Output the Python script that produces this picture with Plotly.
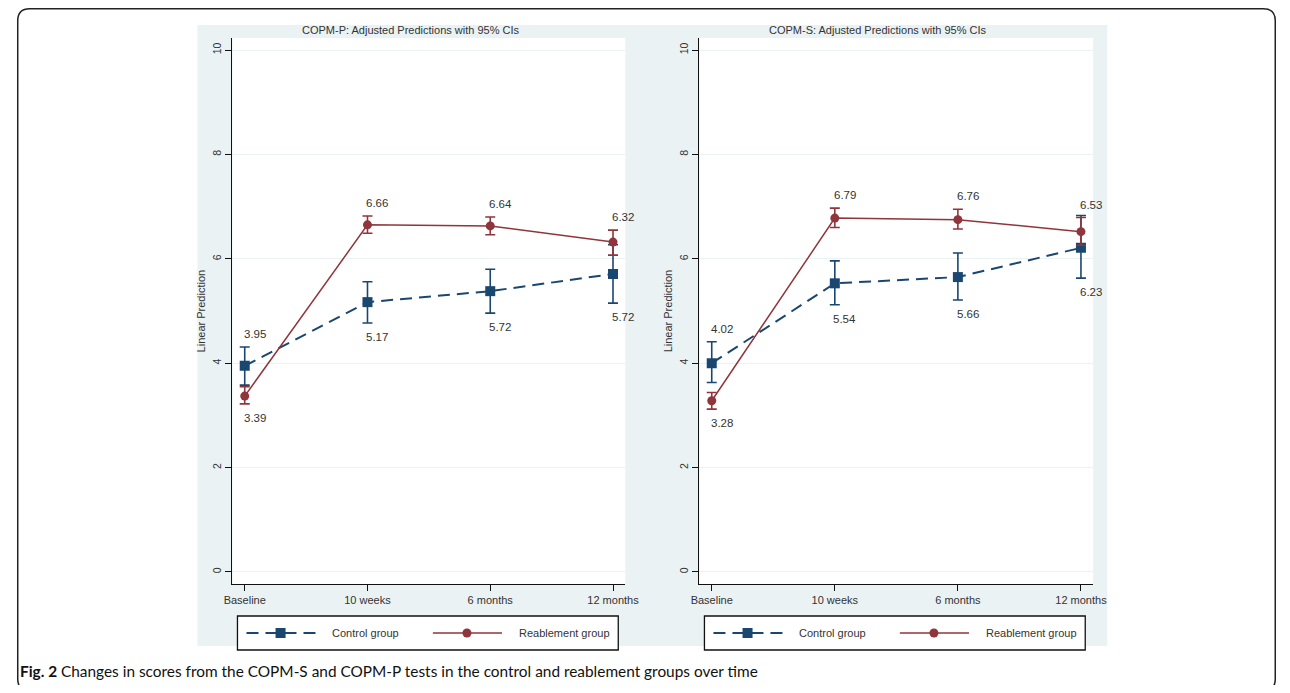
import plotly.graph_objects as go

# figure size (kept inside the 1290x693 window, whose page has an 8px body margin)
W, H = 1282, 677
# measured window placement of the figure: window_x = X0 + SX * fig_x ; window_y = Y0 + fig_y
X0, SX, Y0 = 18.0, 0.98, 8.0

# ---------------- data ----------------
categories = ["Baseline", "10 weeks", "6 months", "12 months"]

# COPM-P (left panel)
p_control = [3.95, 5.17, 5.38, 5.71]
p_control_lo = [3.58, 4.77, 4.96, 5.15]
p_control_hi = [4.31, 5.56, 5.80, 6.27]
p_control_lbl = ["3.95", "5.17", "5.72", "5.72"]
p_control_pos = ["above", "below", "below", "below"]

p_reab = [3.37, 6.65, 6.63, 6.32]
p_reab_lo = [3.22, 6.49, 6.46, 6.07]
p_reab_hi = [3.55, 6.82, 6.80, 6.55]
p_reab_lbl = ["3.39", "6.66", "6.64", "6.32"]
p_reab_pos = ["below", "above", "above", "above"]

# COPM-S (right panel)
s_control = [4.00, 5.53, 5.65, 6.21]
s_control_lo = [3.63, 5.12, 5.21, 5.63]
s_control_hi = [4.41, 5.96, 6.11, 6.83]
s_control_lbl = ["4.02", "5.54", "5.66", "6.23"]
s_control_pos = ["above", "below", "below", "below"]

s_reab = [3.28, 6.78, 6.75, 6.52]
s_reab_lo = [3.12, 6.60, 6.57, 6.26]
s_reab_hi = [3.44, 6.97, 6.95, 6.79]
s_reab_lbl = ["3.28", "6.79", "6.76", "6.53"]
s_reab_pos = ["below", "above", "above", "above"]

panel_titles = ["COPM-P: Adjusted Predictions with 95% CIs",
                "COPM-S: Adjusted Predictions with 95% CIs"]
series_names = ["Control group", "Reablement group"]
y_ticks = [0, 2, 4, 6, 8, 10]
y_title = "Linear Prediction"
caption_bold = "Fig. 2"
caption_text = " Changes in scores from the COPM-S and COPM-P tests in the control and reablement groups over time"

# ---------------- styles ----------------
NAVY = "#1A476F"
MAROON = "#90353B"
BG = "#EAF2F3"
TXT = "#333333"
FONT = "Liberation Sans, Arial, sans-serif"


def px(x):
    """window pixel x -> paper"""
    fx = (x - X0) / SX
    fx = min(max(fx, 0.75), W - 0.75)
    return fx / W


def py(y):
    """window pixel y -> paper"""
    return 1 - (y - Y0) / H


fig = go.Figure()

panels = [
    dict(ctrl=p_control, clo=p_control_lo, chi=p_control_hi, clbl=p_control_lbl, cpos=p_control_pos,
         reab=p_reab, rlo=p_reab_lo, rhi=p_reab_hi, rlbl=p_reab_lbl, rpos=p_reab_pos,
         xa="x", ya="y", dom=[233, 625], off=0, tcx=411),
    dict(ctrl=s_control, clo=s_control_lo, chi=s_control_hi, clbl=s_control_lbl, cpos=s_control_pos,
         reab=s_reab, rlo=s_reab_lo, rhi=s_reab_hi, rlbl=s_reab_lbl, rpos=s_reab_pos,
         xa="x2", ya="y2", dom=[699, 1092], off=466, tcx=877),
]

shapes = []
annotations = []

# outer rounded frame
r = 12
x0, y0, x1, y1 = 10, 8.8, 1284, 691
X0p, X1p = px(x0), px(x1)
RX = r / SX / W
path = (f"M {X0p+RX},{py(y0)} L {X1p-RX},{py(y0)} "
        f"Q {X1p},{py(y0)} {X1p},{py(y0+r)} L {X1p},{py(y1-r)} "
        f"Q {X1p},{py(y1)} {X1p-RX},{py(y1)} L {X0p+RX},{py(y1)} "
        f"Q {X0p},{py(y1)} {X0p},{py(y1-r)} L {X0p},{py(y0+r)} "
        f"Q {X0p},{py(y0)} {X0p+RX},{py(y0)} Z")
shapes.append(dict(type="path", xref="paper", yref="paper", path=path,
                   line=dict(color="#222222", width=1.5), layer="above"))

# graph region background
shapes.append(dict(type="rect", xref="paper", yref="paper",
                   x0=px(198), x1=px(1106), y0=py(646), y1=py(25),
                   fillcolor=BG, line=dict(width=0), layer="below"))

for i, p in enumerate(panels):
    # plot area white
    shapes.append(dict(type="rect", xref="paper", yref="paper",
                       x0=px(p["dom"][0]), x1=px(p["dom"][1]), y0=py(584), y1=py(38),
                       fillcolor="white", line=dict(width=0), layer="below"))
    # control
    fig.add_trace(go.Scatter(
        x=categories, y=p["ctrl"], xaxis=p["xa"], yaxis=p["ya"],
        mode="lines+markers", name=series_names[0], showlegend=False,
        line=dict(color=NAVY, width=2, dash="12px,7px"),
        marker=dict(symbol="square", size=10, color=NAVY),
        error_y=dict(type="data", symmetric=False,
                     array=[h - v for h, v in zip(p["chi"], p["ctrl"])],
                     arrayminus=[v - l for l, v in zip(p["clo"], p["ctrl"])],
                     color=NAVY, thickness=1.6, width=5),
    ))
    # reablement
    fig.add_trace(go.Scatter(
        x=categories, y=p["reab"], xaxis=p["xa"], yaxis=p["ya"],
        mode="lines+markers", name=series_names[1], showlegend=False,
        line=dict(color=MAROON, width=1.5),
        marker=dict(symbol="circle", size=9, color=MAROON),
        error_y=dict(type="data", symmetric=False,
                     array=[h - v for h, v in zip(p["rhi"], p["reab"])],
                     arrayminus=[v - l for l, v in zip(p["rlo"], p["reab"])],
                     color=MAROON, thickness=1.6, width=5),
    ))
    # value labels
    for cat, lo, hi, lbl, pos in list(zip(categories, p["clo"], p["chi"], p["clbl"], p["cpos"])) + \
            list(zip(categories, p["rlo"], p["rhi"], p["rlbl"], p["rpos"])):
        annotations.append(dict(
            x=cat, y=hi if pos == "above" else lo, xref=p["xa"], yref=p["ya"],
            text=lbl, showarrow=False, xshift=10, xanchor="center", yanchor="middle",
            yshift=13 if pos == "above" else -14,
            font=dict(family=FONT, size=11.5, color=TXT)))
    # panel title
    annotations.append(dict(x=px(p["tcx"]), y=py(30), xref="paper", yref="paper",
                            text=panel_titles[i], showarrow=False,
                            xanchor="center", yanchor="middle",
                            font=dict(family=FONT, size=11, color=TXT)))
    # y axis title
    annotations.append(dict(x=px(p["dom"][0] - 31), y=py(311), xref="paper", yref="paper",
                            text=y_title, showarrow=False, textangle=-90,
                            xanchor="center", yanchor="middle",
                            font=dict(family=FONT, size=11, color=TXT)))
    # legend box
    o = p["off"]
    shapes.append(dict(type="rect", xref="paper", yref="paper",
                       x0=px(238 + o), x1=px(618 + o), y0=py(650), y1=py(616),
                       fillcolor="white", line=dict(color="#111111", width=1.3), layer="above"))
    ly = 633
    shapes.append(dict(type="line", xref="paper", yref="paper",
                       x0=px(247 + o), x1=px(317 + o), y0=py(ly), y1=py(ly),
                       line=dict(color=NAVY, width=2, dash="12px,7px"), layer="above"))
    shapes.append(dict(type="rect", xref="paper", yref="paper",
                       x0=px(276 + o), x1=px(286 + o), y0=py(ly + 5), y1=py(ly - 5),
                       fillcolor=NAVY, line=dict(width=0), layer="above"))
    shapes.append(dict(type="line", xref="paper", yref="paper",
                       x0=px(433 + o), x1=px(502 + o), y0=py(ly), y1=py(ly),
                       line=dict(color=MAROON, width=1.5), layer="above"))
    shapes.append(dict(type="circle", xref="paper", yref="paper",
                       x0=px(462.5 + o), x1=px(471.5 + o), y0=py(ly + 4.5), y1=py(ly - 4.5),
                       fillcolor=MAROON, line=dict(width=0), layer="above"))
    annotations.append(dict(x=px(330 + o), y=py(ly), xref="paper", yref="paper",
                            text=series_names[0], showarrow=False,
                            xanchor="left", yanchor="middle",
                            font=dict(family=FONT, size=11, color=TXT)))
    annotations.append(dict(x=px(517 + o), y=py(ly), xref="paper", yref="paper",
                            text=series_names[1], showarrow=False,
                            xanchor="left", yanchor="middle",
                            font=dict(family=FONT, size=11, color=TXT)))

# caption
annotations.append(dict(x=px(12), y=py(671), xref="paper", yref="paper",
                        text=f"<b>{caption_bold}</b>{caption_text}", showarrow=False,
                        xanchor="left", yanchor="middle",
                        font=dict(family="Lato, Noto Sans, sans-serif",
                                  size=15.4, color="#111111")))

xaxis_common = dict(type="category", range=[-0.1, 3.1], showgrid=False, zeroline=False,
                    showline=True, linecolor="#111111", linewidth=1.3,
                    ticks="outside", ticklen=6, tickcolor="#111111", tickwidth=1.3,
                    tickfont=dict(family=FONT, size=11, color=TXT))
yaxis_common = dict(range=[-0.23, 10.23], tickvals=y_ticks, showgrid=True, gridcolor=BG,
                    gridwidth=1, zeroline=False, showline=True, linecolor="#111111",
                    linewidth=1.3, ticks="outside", ticklen=6, tickcolor="#111111",
                    tickwidth=1.3, tickangle=-90,
                    tickfont=dict(family=FONT, size=10.5, color=TXT))

fig.update_layout(
    width=W, height=H,
    margin=dict(l=0, r=0, t=0, b=0),
    paper_bgcolor="white",
    plot_bgcolor="rgba(0,0,0,0)",
    showlegend=False,
    xaxis=dict(**xaxis_common, anchor="y", domain=[px(233), px(625)]),
    yaxis=dict(**yaxis_common, anchor="x", domain=[py(584), py(38)]),
    xaxis2=dict(**xaxis_common, anchor="y2", domain=[px(699), px(1092)]),
    yaxis2=dict(**yaxis_common, anchor="x2", domain=[py(584), py(38)]),
    shapes=shapes,
    annotations=annotations,
)

fig.write_html("out.html")
